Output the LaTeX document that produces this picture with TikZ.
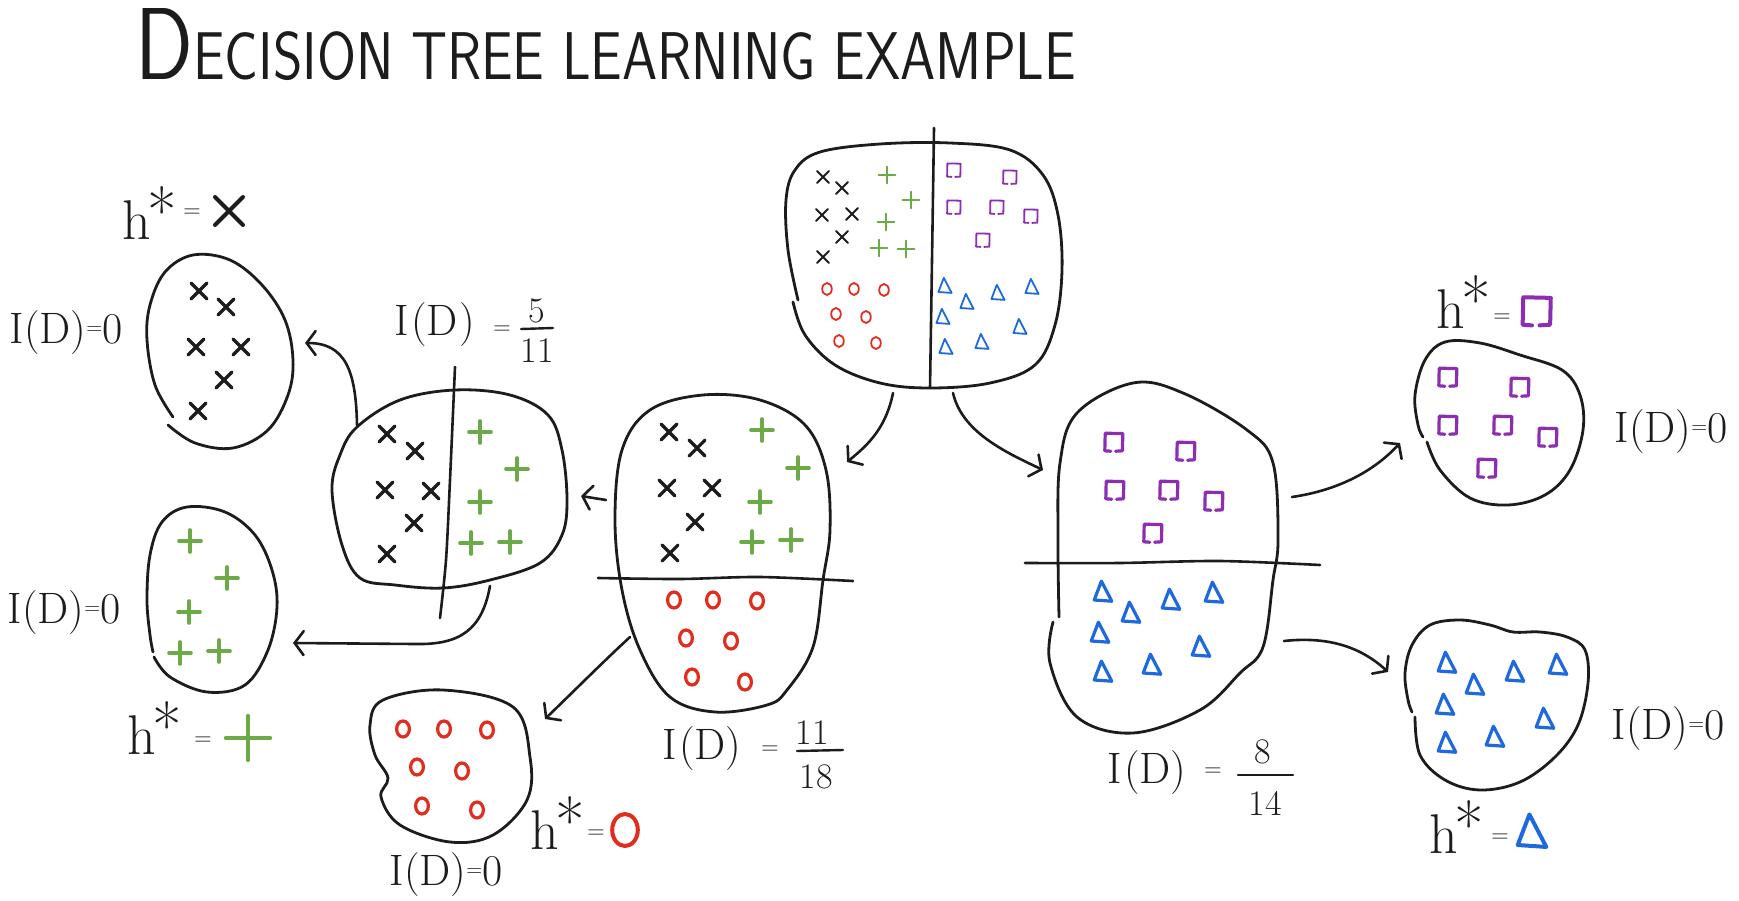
\documentclass[tikz,border=0pt]{standalone}
\usetikzlibrary{arrows.meta}
\definecolor{ink}{RGB}{28,28,28}
\definecolor{mgreen}{RGB}{108,170,72}
\definecolor{mred}{RGB}{225,45,30}
\definecolor{mpurple}{RGB}{140,45,178}
\definecolor{mblue}{RGB}{30,105,222}
\newcommand\hst{h\kern-0.06em\raisebox{0.08em}{\fontsize{64}{64}\selectfont *}}
\newcommand\eqs{\raisebox{0.22em}{\fontsize{22}{22}\selectfont =}}
\tikzset{
  blob/.style={draw=ink, line width=2.8pt, line cap=round, line join=round},
  split/.style={draw=ink, line width=2.6pt, line cap=round},
  bar/.style={draw=ink, line width=2.4pt, line cap=round},
  conn/.style={draw=ink, line width=2.6pt, line cap=round,
    -{Straight Barb[length=9pt,width=24pt,line cap=round]}},
  rootmk/.style={scale=6, line width=1.8pt},
  bigmk/.style={scale=8, line width=3.2pt},
  lab/.style={font=\fontsize{44}{44}\selectfont, inner sep=0pt, text=ink},
  hlab/.style={font=\fontsize{56}{56}\selectfont, inner sep=0pt, text=ink},
  eqlab/.style={font=\fontsize{24}{24}\selectfont, inner sep=0pt, text=ink},
  num/.style={font=\fontsize{36}{36}\selectfont, inner sep=0pt, text=ink},
  xm/.pic={\draw[line cap=round] (-1,-1)--(1,1) (-1,1)--(1,-1);},
  pl/.pic={\draw[line cap=round] (-1.4,0)--(1.4,0) (0,-1.4)--(0,1.4);},
  om/.pic={\draw (0,0) ellipse [x radius=0.8, y radius=1];},
  sq/.pic={\draw[line cap=round,line join=round] (-0.4,1.15)--(-1.15,1.1)--(-1.1,-1.1)--(1.1,-1.05)--(1.05,1.1)--(0.2,1.15);},
  tr/.pic={\draw[line cap=round,line join=round] (-0.2,-1.35)--(-1.1,1.0)--(1.1,1.15)--cycle;},
}
\begin{document}
\begin{tikzpicture}[x=1pt,y=-1pt]
\useasboundingbox (0,0) rectangle (1739,901);

% ---------- title ----------
\node[anchor=base west, inner sep=0pt, text=ink] (title) at (135,80)
  {\resizebox{941pt}{71pt}{\sffamily{\fontsize{100}{100}\selectfont D}{\fontsize{66}{66}\selectfont ECISION TREE LEARNING EXAMPLE}}};

% ---------- root blob ----------
\draw[blob] plot[smooth, tension=0.6] coordinates {(793,302) (805,335) (835,365) (880,383) (930,388) (990,383) (1035,365) (1055,325) (1062,270) (1058,215) (1043,175) (1010,150) (950,143) (880,144) (820,152) (795,170) (786,200) (788,250) (798,300)};
\draw[split] plot[smooth] coordinates {(934,128) (932,260) (930,388)};
\foreach \p in {(823,177),(842,188),(822,215),(852,214),(842,237),(823,257)} \pic[rootmk, color=ink] at \p {xm};
\foreach \p in {(887,175),(911,200),(886,222),(879,248),(906,249)} \pic[rootmk, color=mgreen] at \p {pl};
\foreach \p in {(827,289),(854,289),(884,290),(836,314),(866,317),(839,341),(876,343)} \pic[rootmk, color=mred] at \p {om};
\foreach \p in {(954,170),(1010,177),(954,207),(997,207),(1031,216),(983,240)} \pic[rootmk, color=mpurple] at \p {sq};
\foreach \p in {(945,286),(967,302),(998,293),(1032,287),(943,317),(982,342),(1020,327),(946,347)} \pic[rootmk, color=mblue] at \p {tr};

% ---------- middle-left blob (x + o) ----------
\draw[blob] plot[smooth cycle, tension=0.6] coordinates {(703,395) (760,400) (805,425) (826,470) (830,530) (823,580) (813,647) (787,690) (767,705) (715,712) (670,697) (640,650) (622,590) (615,520) (622,450) (650,410)};
\draw[split] plot[smooth] coordinates {(598,578) (680,579) (760,577) (853,581)};
\foreach \p in {(669,432),(697,448),(667,488),(712,488),(695,522),(670,553)} \pic[bigmk, color=ink] at \p {xm};
\foreach \p in {(762,430),(798,468),(760,502),(752,542),(791,540)} \pic[bigmk, color=mgreen] at \p {pl};
\foreach \p in {(674,600),(713,600),(757,601),(686,638),(731,641),(692,677),(745,682)} \pic[bigmk, color=mred] at \p {om};
\node[lab] (l4) at (702,749) {I\kern2pt(D)};
\node[eqlab] (e4) at (770,750) {=};
\node[num] (f4n) at (812,733) {11};
\node[num] (f4d) at (816,777) {18};
\coordinate (f4a) at (797,751); \coordinate (f4b) at (843,750);
\draw[bar] (f4a) -- (f4b);

% ---------- x/+ blob ----------
\draw[blob] plot[smooth cycle, tension=0.6] coordinates {(332,490) (340,455) (357,427) (400,400) (455,390) (510,395) (548,415) (562,450) (567,500) (562,535) (540,563) (490,580) (443,588) (395,585) (360,578) (342,545)};
\draw[split] plot[smooth] coordinates {(455,367) (450,480) (446,560) (440,618)};
\foreach \p in {(387,434),(415,451),(385,490),(431,491),(414,523),(387,554)} \pic[bigmk, color=ink] at \p {xm};
\foreach \p in {(480,432),(517,469),(480,502),(471,543),(510,542)} \pic[bigmk, color=mgreen] at \p {pl};
\node[lab] (l3) at (435,325) {I\kern2pt(D\kern2pt)};
\node[eqlab] (e3) at (502,330) {=};
\node[num] (f3n) at (537,311) {5};
\node[num] (f3d) at (537,351) {11};
\coordinate (f3a) at (521,329); \coordinate (f3b) at (553,328);
\draw[bar] (f3a) -- (f3b);

% ---------- x egg ----------
\draw[blob] plot[smooth, tension=0.6] coordinates {(168,425) (195,443) (233,448) (268,430) (288,395) (293,360) (285,320) (262,285) (230,260) (193,255) (165,272) (150,305) (147,340) (155,385) (173,417)};
\foreach \p in {(199,291),(226,307),(196,347),(241,347),(224,380),(198,411)} \pic[bigmk, color=ink] at \p {xm};
\node[lab] (l1) at (66,333) {I(D)\eqs0};
\node[hlab] (h1) at (150,213) {\hst};
\node[eqlab] (he1) at (192,213) {=};
\pic[scale=14, line width=4pt, color=ink] at (229,211) {xm};

% ---------- + egg ----------
\draw[blob] plot[smooth, tension=0.6] coordinates {(154,657) (170,677) (207,692) (245,685) (268,650) (277,607) (272,570) (255,535) (225,512) (187,507) (162,522) (150,555) (147,600) (150,635) (153,652)};
\foreach \p in {(190,541),(227,578),(189,612),(180,653),(219,651)} \pic[bigmk, color=mgreen] at \p {pl};
\node[lab] (l2) at (64,613) {I(D)\eqs0};
\node[hlab] (h2) at (155,728) {\hst};
\node[eqlab] (he2) at (203,741) {=};
\pic[scale=16, line width=3.6pt, color=mgreen] at (248,738) {pl};

% ---------- o blob ----------
\draw[blob] plot[smooth cycle, tension=0.6] coordinates {(383,700) (443,690) (513,707) (530,757) (527,800) (493,835) (450,842) (400,825) (381,797) (388,778) (375,755) (370,725)};
\foreach \p in {(403,729),(444,729),(487,730),(417,767),(462,771),(422,806),(477,810)} \pic[bigmk, color=mred] at \p {om};
\node[lab] (l5) at (446,875) {I(D)\eqs0};
\node[hlab] (h3) at (558,823) {\hst};
\node[eqlab] (he3) at (596,834) {=};
\pic[scale=16, line width=4pt, color=mred] at (625,830) {om};

% ---------- middle-right blob (squares/triangles) ----------
\draw[blob] plot[smooth, tension=0.6] coordinates {(1059,617) (1058,540) (1060,463) (1077,413) (1133,383) (1183,393) (1247,430) (1273,463) (1278,540) (1273,580) (1263,647) (1240,673) (1200,710) (1133,733) (1077,717) (1050,663) (1053,622)};
\draw[split] plot[smooth] coordinates {(1025,563) (1120,563) (1220,561) (1320,565)};
\foreach \p in {(1114,442),(1186,451),(1115,490),(1169,490),(1214,501),(1153,533)} \pic[bigmk, color=mpurple] at \p {sq};
\foreach \p in {(1103,592),(1131,613),(1171,600),(1214,593),(1100,633),(1152,665),(1201,647),(1103,672)} \pic[bigmk, color=mblue] at \p {tr};
\node[lab] (l6) at (1147,773) {I\kern2pt(D)};
\node[eqlab] (e6) at (1213,772) {=};
\node[num] (f6n) at (1263,752) {8};
\node[num] (f6d) at (1265,803) {14};
\coordinate (f6a) at (1238,775); \coordinate (f6b) at (1293,775);
\draw[bar] (f6a) -- (f6b);

% ---------- purple blob ----------
\draw[blob] plot[smooth, tension=0.6] coordinates {(1427,442) (1440,470) (1470,498) (1508,505) (1545,495) (1570,470) (1583,430) (1580,395) (1562,370) (1520,355) (1480,343) (1445,342) (1425,360) (1415,395) (1418,425) (1423,437)};
\foreach \p in {(1448,377),(1520,387),(1448,425),(1503,425),(1548,437),(1487,468)} \pic[bigmk, color=mpurple] at \p {sq};
\node[lab] (l7) at (1671,432) {I(D)\eqs0};
\node[hlab] (h4) at (1464,302) {\hst};
\node[eqlab] (he4) at (1502,318) {=};
\pic[scale=12.5, line width=4pt, color=mpurple] at (1537,311) {sq};

% ---------- blue blob ----------
\draw[blob] plot[smooth, tension=0.6] coordinates {(1415,717) (1420,755) (1445,780) (1480,790) (1520,782) (1555,757) (1578,725) (1588,683) (1585,650) (1567,637) (1540,632) (1513,632) (1490,625) (1460,620) (1430,625) (1412,645) (1405,673) (1408,700) (1412,712)};
\foreach \p in {(1447,663),(1475,685),(1515,672),(1558,665),(1445,705),(1495,737),(1545,719),(1447,743)} \pic[bigmk, color=mblue] at \p {tr};
\node[lab] (l8) at (1668,729) {I(D)\eqs0};
\node[hlab] (h5) at (1457,827) {\hst};
\node[eqlab] (he5) at (1500,838) {=};
\pic[scale=13, line width=4pt, color=mblue] at (1532,832) {tr};

% ---------- connectors ----------
\coordinate (a1s) at (893,393); \coordinate (a1e) at (847,462);
\coordinate (a2s) at (953,393); \coordinate (a2e) at (1043,470);
\coordinate (a3s) at (606,500); \coordinate (a3e) at (581,496);
\coordinate (a4s) at (630,637); \coordinate (a4e) at (545,719);
\coordinate (a5s) at (357,425); \coordinate (a5e) at (305,343);
\coordinate (a6s) at (490,586); \coordinate (a6e) at (293,643);
\coordinate (a7s) at (1292,497); \coordinate (a7e) at (1400,443);
\coordinate (a8s) at (1284,641); \coordinate (a8e) at (1388,672);
\draw[conn] (a1s) .. controls (886,428) and (868,445) .. (a1e);
\draw[conn] (a2s) .. controls (962,432) and (1005,452) .. (a2e);
\draw[conn] (a3s) -- (a3e);
\draw[conn] (a4s) .. controls (605,660) and (575,690) .. (a4e);
\draw[conn] (a5s) .. controls (356,370) and (345,343) .. (a5e);
\draw[conn] (a6s) .. controls (482,630) and (460,645) .. (415,644) -- (a6e);
\draw[conn] (a7s) .. controls (1340,490) and (1375,470) .. (a7e);
\draw[conn] (a8s) .. controls (1330,636) and (1362,648) .. (a8e);
\end{tikzpicture}
\end{document}
